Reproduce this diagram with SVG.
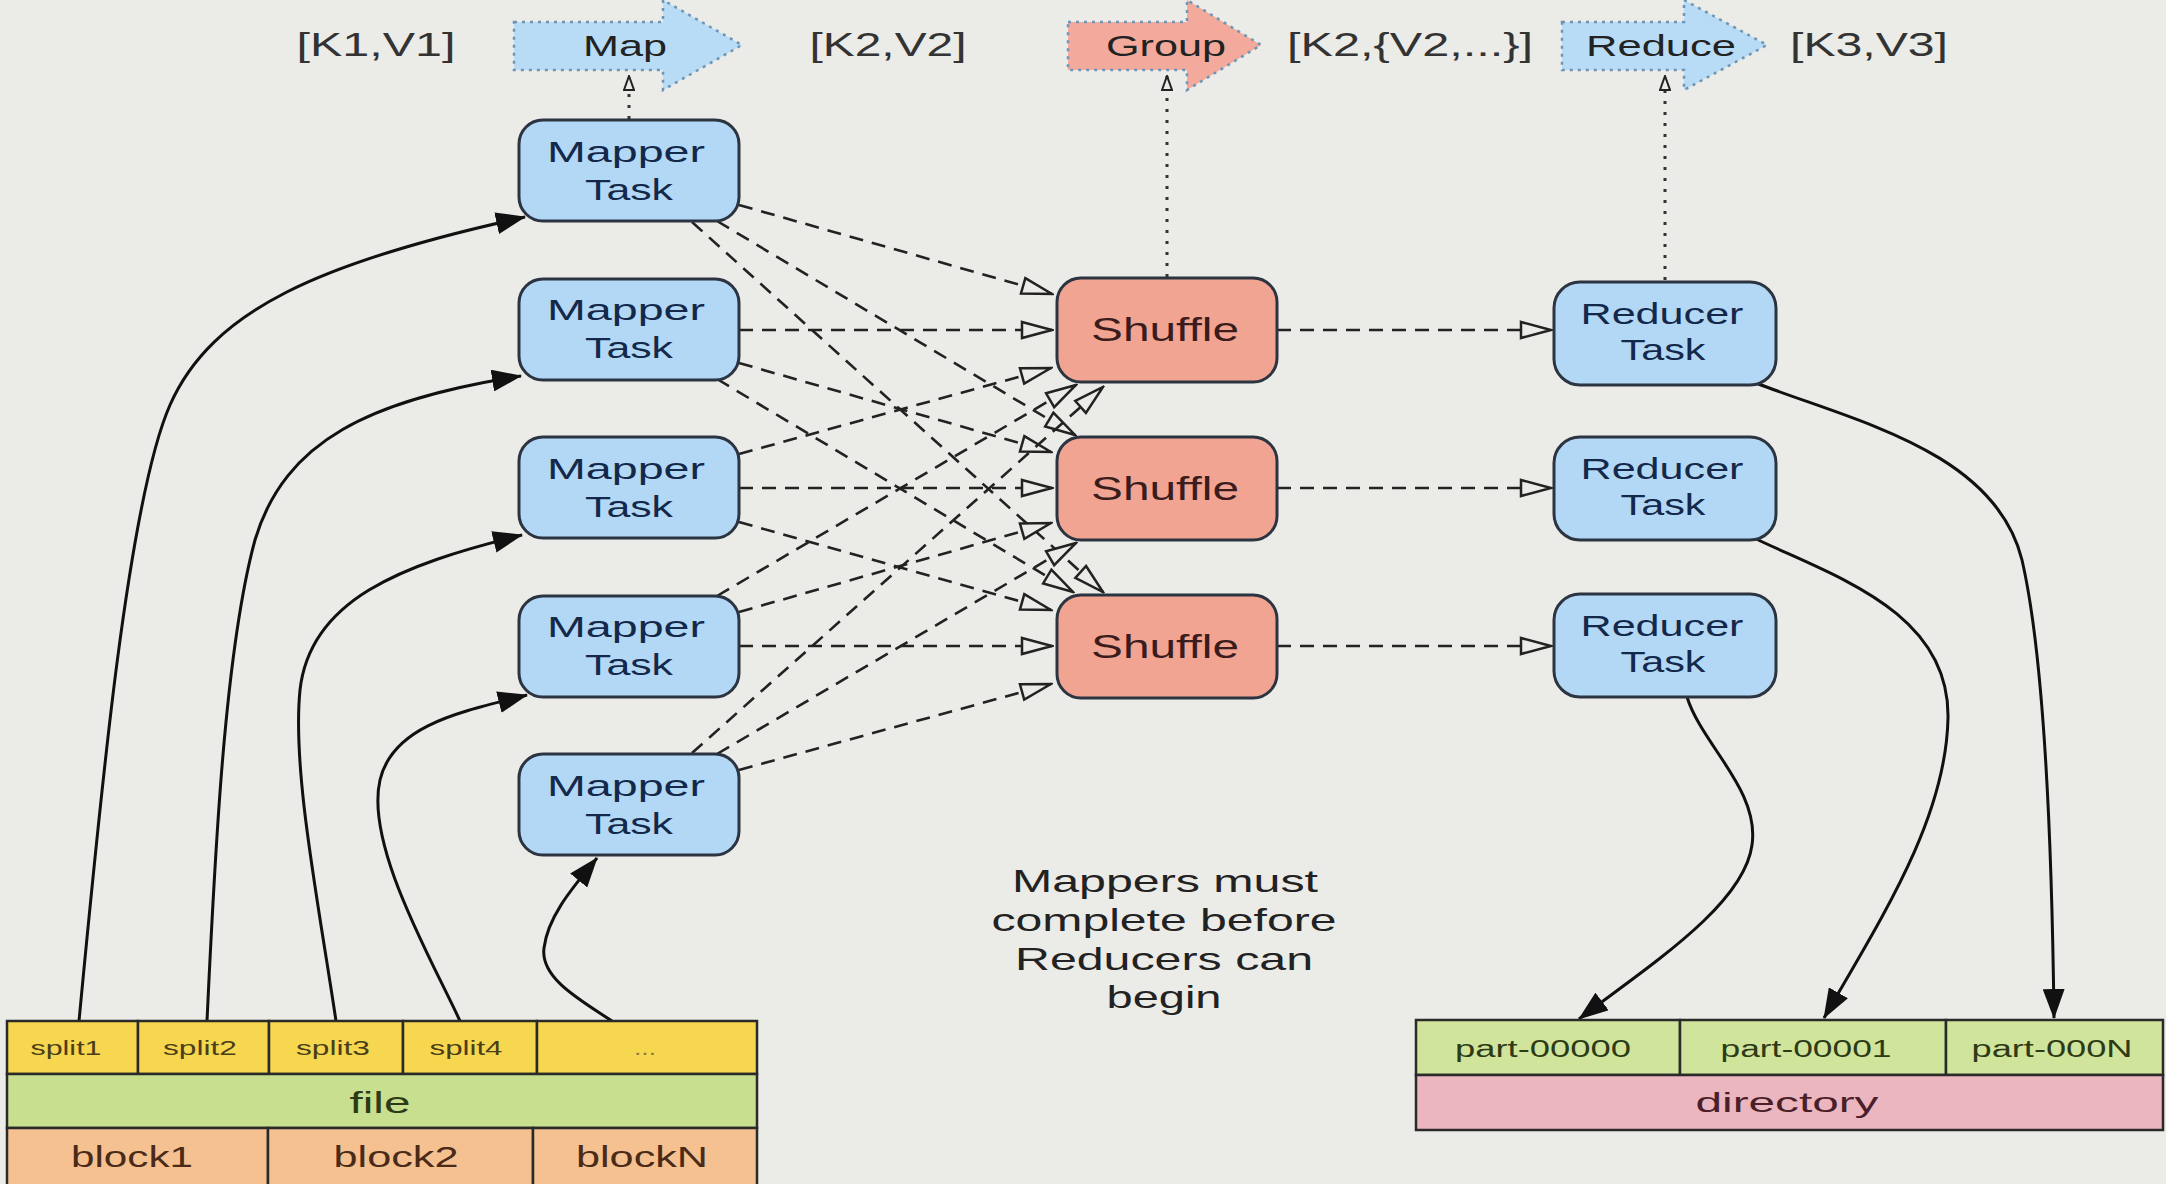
<svg xmlns="http://www.w3.org/2000/svg" width="2166" height="1184" viewBox="0 0 2166 1184">
<defs>
<style>
text{font-family:"Liberation Sans",Arial,Helvetica,sans-serif;text-anchor:middle}
.lbl{font-size:33px;fill:#333}
.alb{font-size:30px;fill:#222}
.node{stroke:#2b3440;stroke-width:3}
.blue{fill:#b3d8f6}
.red{fill:#f2a493}
.nt{font-size:30px;fill:#14284a}
.st{font-size:33px;fill:#3a1c1c}
.note{font-size:32px;fill:#222}
.dash{fill:none;stroke:#222;stroke-width:2.6;stroke-dasharray:14 9;marker-end:url(#openTri)}
.dot{fill:none;stroke:#333;stroke-width:3;stroke-dasharray:3 8;marker-end:url(#smallTri)}
.solid{fill:none;stroke:#111;stroke-width:3;marker-end:url(#solidTri)}
.cell{stroke:#2a2a2a;stroke-width:2.5}
.blk{fill:none;stroke:#6f95b5;stroke-width:2.5;stroke-dasharray:3 5}
</style>
<marker id="openTri" viewBox="0 0 34 20" refX="32" refY="10" markerWidth="34" markerHeight="20" markerUnits="userSpaceOnUse" orient="auto">
<path d="M2,2 L32,10 L2,18 Z" fill="#ebebe7" stroke="#222" stroke-width="2.5"/>
</marker>
<marker id="solidTri" viewBox="0 0 30 22" refX="29" refY="11" markerWidth="30" markerHeight="22" markerUnits="userSpaceOnUse" orient="auto">
<path d="M0,0 L30,11 L0,22 Z" fill="#111"/>
</marker>
<marker id="smallTri" viewBox="0 0 16 12" refX="15" refY="6" markerWidth="16" markerHeight="12" markerUnits="userSpaceOnUse" orient="auto">
<path d="M1,1 L15,6 L1,11 Z" fill="#ebebe7" stroke="#222" stroke-width="2"/>
</marker>
</defs>
<rect x="0" y="0" width="2166" height="1184" fill="#ebebe7"/>

<g id="top-labels">
<text class="lbl" x="376" y="56" textLength="159" lengthAdjust="spacingAndGlyphs">[K1,V1]</text>
<text class="lbl" x="888" y="56" textLength="157" lengthAdjust="spacingAndGlyphs">[K2,V2]</text>
<text class="lbl" x="1410" y="56" textLength="246" lengthAdjust="spacingAndGlyphs">[K2,{V2,...}]</text>
<text class="lbl" x="1869" y="56" textLength="158" lengthAdjust="spacingAndGlyphs">[K3,V3]</text>
</g>

<g id="map-arrow">
<polygon points="514,22 663,22 663,0 742,45 663,90 663,70 514,70" fill="#b8dcf6"/>
<polygon class="blk" points="514,22 663,22 663,0 742,45 663,90 663,70 514,70"/>
<text class="alb" x="625" y="56" textLength="84" lengthAdjust="spacingAndGlyphs">Map</text>
</g>
<g id="group-arrow">
<polygon points="1068,22 1187,22 1187,0 1261,45 1187,90 1187,70 1068,70" fill="#f3a99b"/>
<polygon class="blk" points="1068,22 1187,22 1187,0 1261,45 1187,90 1187,70 1068,70"/>
<text class="alb" x="1166" y="56" textLength="120" lengthAdjust="spacingAndGlyphs">Group</text>
</g>
<g id="reduce-arrow">
<polygon points="1562,22 1684,22 1684,0 1767,45 1684,90 1684,70 1562,70" fill="#b8dcf6"/>
<polygon class="blk" points="1562,22 1684,22 1684,0 1767,45 1684,90 1684,70 1562,70"/>
<text class="alb" x="1661" y="56" textLength="150" lengthAdjust="spacingAndGlyphs">Reduce</text>
</g>

<g id="connectors">
<path class="dot" d="M629,119 L629,76"/>
<path class="dot" d="M1167,277 L1167,76"/>
<path class="dot" d="M1665,280 L1665,76"/>

<path class="dash" d="M739,205 L1052,294"/>
<path class="dash" d="M717,221 L1075,435"/>
<path class="dash" d="M692,222 L1103,592"/>
<path class="dash" d="M739,330 L1052,330"/>
<path class="dash" d="M739,363 L1051,452"/>
<path class="dash" d="M717,379 L1073,592"/>
<path class="dash" d="M739,454 L1051,368"/>
<path class="dash" d="M739,488 L1052,488"/>
<path class="dash" d="M739,522 L1051,610"/>
<path class="dash" d="M717,596 L1076,385"/>
<path class="dash" d="M739,612 L1051,523"/>
<path class="dash" d="M739,646 L1052,646"/>
<path class="dash" d="M692,753 L1103,387"/>
<path class="dash" d="M717,754 L1076,543"/>
<path class="dash" d="M739,770 L1051,684"/>

<path class="dash" d="M1277,330 L1551,330"/>
<path class="dash" d="M1277,488 L1551,488"/>
<path class="dash" d="M1277,646 L1551,646"/>

<path class="solid" d="M79,1021 C100,800 128,500 170,405 C212,310 320,262 525,217"/>
<path class="solid" d="M207,1021 C215,850 225,650 255,540 C285,440 370,400 521,376"/>
<path class="solid" d="M336,1021 C318,900 292,770 300,690 C310,600 400,565 522,535"/>
<path class="solid" d="M460,1021 C432,960 365,845 380,780 C393,725 460,712 527,695"/>
<path class="solid" d="M612,1021 C580,1000 540,978 544,948 C548,915 575,885 597,858"/>

<path class="solid" d="M1687,697 C1702,745 1760,790 1752,845 C1744,905 1650,965 1579,1019"/>
<path class="solid" d="M1752,537 C1830,575 1950,610 1948,718 C1946,820 1880,920 1824,1018"/>
<path class="solid" d="M1756,383 C1850,420 1995,450 2022,560 C2045,660 2052,850 2054,1018"/>
</g>

<g id="mapper1"><rect class="node blue" x="519" y="120" width="220" height="101" rx="24"/><text class="nt" x="626" y="162" textLength="158" lengthAdjust="spacingAndGlyphs">Mapper</text><text class="nt" x="629" y="200" textLength="88" lengthAdjust="spacingAndGlyphs">Task</text></g>
<g id="mapper2"><rect class="node blue" x="519" y="279" width="220" height="101" rx="24"/><text class="nt" x="626" y="320" textLength="158" lengthAdjust="spacingAndGlyphs">Mapper</text><text class="nt" x="629" y="358" textLength="88" lengthAdjust="spacingAndGlyphs">Task</text></g>
<g id="mapper3"><rect class="node blue" x="519" y="437" width="220" height="101" rx="24"/><text class="nt" x="626" y="479" textLength="158" lengthAdjust="spacingAndGlyphs">Mapper</text><text class="nt" x="629" y="517" textLength="88" lengthAdjust="spacingAndGlyphs">Task</text></g>
<g id="mapper4"><rect class="node blue" x="519" y="596" width="220" height="101" rx="24"/><text class="nt" x="626" y="637" textLength="158" lengthAdjust="spacingAndGlyphs">Mapper</text><text class="nt" x="629" y="675" textLength="88" lengthAdjust="spacingAndGlyphs">Task</text></g>
<g id="mapper5"><rect class="node blue" x="519" y="754" width="220" height="101" rx="24"/><text class="nt" x="626" y="796" textLength="158" lengthAdjust="spacingAndGlyphs">Mapper</text><text class="nt" x="629" y="834" textLength="88" lengthAdjust="spacingAndGlyphs">Task</text></g>

<g id="shuffle1"><rect class="node red" x="1057" y="278" width="220" height="104" rx="24"/><text class="st" x="1165" y="341" textLength="148" lengthAdjust="spacingAndGlyphs">Shuffle</text></g>
<g id="shuffle2"><rect class="node red" x="1057" y="437" width="220" height="103" rx="24"/><text class="st" x="1165" y="500" textLength="148" lengthAdjust="spacingAndGlyphs">Shuffle</text></g>
<g id="shuffle3"><rect class="node red" x="1057" y="595" width="220" height="103" rx="24"/><text class="st" x="1165" y="658" textLength="148" lengthAdjust="spacingAndGlyphs">Shuffle</text></g>

<g id="reducer1"><rect class="node blue" x="1554" y="282" width="222" height="103" rx="26"/><text class="nt" x="1662" y="324" textLength="163" lengthAdjust="spacingAndGlyphs">Reducer</text><text class="nt" x="1663" y="360" textLength="85" lengthAdjust="spacingAndGlyphs">Task</text></g>
<g id="reducer2"><rect class="node blue" x="1554" y="437" width="222" height="103" rx="26"/><text class="nt" x="1662" y="479" textLength="163" lengthAdjust="spacingAndGlyphs">Reducer</text><text class="nt" x="1663" y="515" textLength="85" lengthAdjust="spacingAndGlyphs">Task</text></g>
<g id="reducer3"><rect class="node blue" x="1554" y="594" width="222" height="103" rx="26"/><text class="nt" x="1662" y="636" textLength="163" lengthAdjust="spacingAndGlyphs">Reducer</text><text class="nt" x="1663" y="672" textLength="85" lengthAdjust="spacingAndGlyphs">Task</text></g>

<g id="note">
<text class="note" x="1165" y="892" textLength="306" lengthAdjust="spacingAndGlyphs">Mappers must</text>
<text class="note" x="1164" y="931" textLength="345" lengthAdjust="spacingAndGlyphs">complete before</text>
<text class="note" x="1164" y="970" textLength="298" lengthAdjust="spacingAndGlyphs">Reducers can</text>
<text class="note" x="1164" y="1008" textLength="115" lengthAdjust="spacingAndGlyphs">begin</text>
</g>

<g id="input-file">
<rect class="cell" x="7" y="1021" width="131" height="53" fill="#f8d750"/>
<rect class="cell" x="138" y="1021" width="131" height="53" fill="#f8d750"/>
<rect class="cell" x="269" y="1021" width="134" height="53" fill="#f8d750"/>
<rect class="cell" x="403" y="1021" width="134" height="53" fill="#f8d750"/>
<rect class="cell" x="537" y="1021" width="220" height="53" fill="#f8d750"/>
<rect class="cell" x="7" y="1074" width="750" height="54" fill="#c8df8f"/>
<rect class="cell" x="7" y="1128" width="261" height="64" fill="#f6c190"/>
<rect class="cell" x="268" y="1128" width="265" height="64" fill="#f6c190"/>
<rect class="cell" x="533" y="1128" width="224" height="64" fill="#f6c190"/>
<text style="font-size:21px;fill:#4a3f18" x="66" y="1055" textLength="71" lengthAdjust="spacingAndGlyphs">split1</text>
<text style="font-size:21px;fill:#4a3f18" x="200" y="1055" textLength="74" lengthAdjust="spacingAndGlyphs">split2</text>
<text style="font-size:21px;fill:#4a3f18" x="333" y="1055" textLength="74" lengthAdjust="spacingAndGlyphs">split3</text>
<text style="font-size:21px;fill:#4a3f18" x="466" y="1055" textLength="73" lengthAdjust="spacingAndGlyphs">split4</text>
<text style="font-size:21px;fill:#8a7a40" x="645" y="1055" textLength="22" lengthAdjust="spacingAndGlyphs">...</text>
<text style="font-size:30px;fill:#2d3a16" x="380" y="1113" textLength="61" lengthAdjust="spacingAndGlyphs">file</text>
<text style="font-size:30px;fill:#4a2a18" x="132" y="1167" textLength="122" lengthAdjust="spacingAndGlyphs">block1</text>
<text style="font-size:30px;fill:#4a2a18" x="396" y="1167" textLength="125" lengthAdjust="spacingAndGlyphs">block2</text>
<text style="font-size:30px;fill:#4a2a18" x="642" y="1167" textLength="132" lengthAdjust="spacingAndGlyphs">blockN</text>
</g>

<g id="output-directory">
<rect class="cell" x="1416" y="1020" width="264" height="55" fill="#d0e49b"/>
<rect class="cell" x="1680" y="1020" width="266" height="55" fill="#d0e49b"/>
<rect class="cell" x="1946" y="1020" width="217" height="55" fill="#d0e49b"/>
<rect class="cell" x="1416" y="1075" width="747" height="55" fill="#ebb6bf"/>
<text style="font-size:23px;fill:#2d3a16" x="1543" y="1057" textLength="176" lengthAdjust="spacingAndGlyphs">part-00000</text>
<text style="font-size:23px;fill:#2d3a16" x="1806" y="1057" textLength="171" lengthAdjust="spacingAndGlyphs">part-00001</text>
<text style="font-size:23px;fill:#2d3a16" x="2052" y="1057" textLength="161" lengthAdjust="spacingAndGlyphs">part-000N</text>
<text style="font-size:28px;fill:#4a1f2a" x="1787" y="1112" textLength="183" lengthAdjust="spacingAndGlyphs">directory</text>
</g>
</svg>
